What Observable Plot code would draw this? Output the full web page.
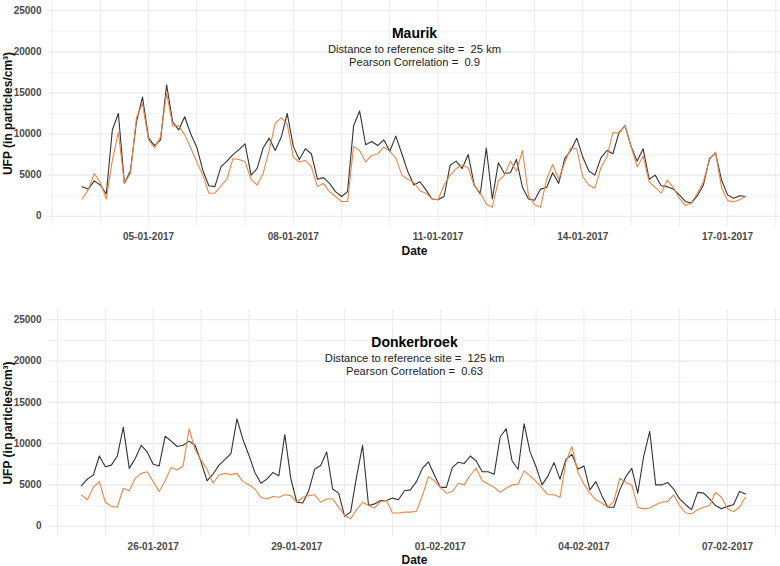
<!DOCTYPE html>
<html><head><meta charset="utf-8">
<script src="https://cdn.jsdelivr.net/npm/d3@7"></script>
<script src="https://cdn.jsdelivr.net/npm/@observablehq/plot@0.6"></script>
<style>
body{margin:0;background:#fff;font-family:"Liberation Sans",Arial,sans-serif}
svg{display:block}
</style>
</head><body><div id="chart"></div>
<script>
// 3-hourly UFP values (particles/cm³)
const stepHours = 3;
const maurikStart = "2017-01-03T15:00:00Z";
const donkerStart = "2017-01-24T12:00:00Z";

const maurikBlack = [3600,3300,4300,3800,2700,10500,12500,4000,5500,11500,
14500,9500,8600,9300,16000,11500,10500,12100,10000,8400,
5600,3700,3600,6000,6700,7500,8100,8800,5000,5800,
8300,9500,8000,9600,12500,8500,6900,
8200,7600,4500,4700,4000,3000,2400,3000,11000,12800,
8700,9100,8600,9300,7900,9750,7600,5400,3800,4200,
3200,2100,2000,2400,6200,6700,5800,7500,3800,2700,
8300,2100,6500,5200,5300,6900,3500,2100,
1950,3300,3500,5300,4000,7000,8000,9500,7200,5500,
5000,7100,8000,7600,10200,11000,8500,6700,8200,4500,
5000,3700,3600,3300,2600,1800,1600,2500,3800,7000,
7700,4400,2600,2200,2500,2400];

const maurikOrange = [2100,3200,5200,4100,2100,6800,10200,4000,5200,12000,
13700,9300,8300,9700,15000,11000,11000,9900,8300,6600,
5000,2800,2800,3700,4500,7000,6900,6650,4500,3800,
5200,8000,11300,12000,11200,7200,6600,
6800,6000,3600,4000,3000,2400,1800,1800,8500,8000,
6600,7400,7600,8400,7900,7100,5000,4500,4100,3100,
2800,2100,2000,3800,5000,5800,6200,5900,3700,2900,
1500,1100,4300,5000,6700,5500,8000,2500,
1400,1100,4500,6300,4500,6500,8300,8200,4800,3800,
3400,5900,7200,10200,10100,11100,8500,6000,7300,4200,
3500,2800,4400,3500,2200,1300,1600,2800,4200,6900,
7800,3500,1900,1750,2000,2400];

const donkerBlack = [4900,5700,6200,8500,7200,7400,8500,12000,7000,8200,
9800,9000,7500,7300,10900,10300,9650,9800,10300,9800,
7800,5500,6300,7400,8100,8800,13000,10500,8600,6500,
5200,5700,6500,6100,11100,5800,2900,2800,
4300,6900,7350,9000,4500,4000,1200,1700,6000,9800,
2500,2700,3100,3100,3400,3200,4300,4400,5400,7000,
7800,6200,4700,4700,7100,7750,7600,8500,7900,6600,
6600,6300,10800,11800,7900,6900,12400,9000,
7200,5000,6100,7700,5700,8100,8700,6900,7300,4400,
5400,3700,2300,2300,4400,6000,7000,4000,8500,11500,
5000,5000,5300,4500,3300,2600,2000,4100,4000,3300,
2500,2100,2400,2600,4200,3900];

const donkerOrange = [3800,3200,4700,5400,2900,2400,2300,4600,4300,5800,
6400,6600,5400,4200,5500,7100,6800,7300,11800,9300,
8000,6900,5200,6200,6400,6250,6400,5400,5000,4500,
3500,3300,3600,3500,3800,3700,2900,3500,
3700,3800,2900,3300,3300,2300,1300,900,2000,2900,
2500,2200,3000,3100,1600,1600,1700,1700,1800,3700,
6000,5500,4700,4000,4200,5200,5000,6200,7000,5500,
5100,4700,4100,4600,5000,5100,6700,6100,
5400,4650,3800,3800,3500,7800,9650,6500,5100,4000,
3200,2800,2300,3000,5800,5300,5000,2300,2100,2200,
2600,2900,3000,3800,2500,1600,1500,2000,2300,2500,
4100,3500,2100,1750,2300,3500];

const yTicks = [0,5000,10000,15000,20000,25000];
const yMinorTicks = [2500,7500,12500,17500,22500];
const maurikTickLabels = ["2017-01-05","2017-01-08","2017-01-11","2017-01-14","2017-01-17"];
const donkerTickLabels = ["2017-01-26","2017-01-29","2017-02-01","2017-02-04","2017-02-07"];
const yLabel = "UFP (in particles/cm³)";

function series(start, values) {
  const t0 = new Date(start).getTime();
  return values.map((v, i) => ({t: new Date(t0 + i * stepHours * 3600e3), v}));
}

function panel(cfg) {
  const days = d3.utcDay.range(cfg.domain[0], cfg.domain[1]);
  const ticks = cfg.ticks.map(d => new Date(d + "T00:00:00Z"));
  return Plot.plot({
    width: 780,
    height: 283,
    marginLeft: 48,
    marginRight: 0,
    marginTop: cfg.marginTop,
    marginBottom: cfg.marginBottom,
    style: {fontFamily: '"Liberation Sans", Arial, sans-serif', background: "#fff"},
    x: {type: "utc", domain: cfg.domain},
    y: {domain: [-1250, 26250]},
    marks: [
      Plot.ruleY(yMinorTicks, {stroke: "#f0f0f0", strokeWidth: 0.8}),
      Plot.ruleY(yTicks, {stroke: "#e8e8e8", strokeWidth: 1.1}),
      Plot.ruleX(days, {stroke: "#ececec", strokeWidth: 1}),
      Plot.line(series(cfg.start, cfg.black), {x: "t", y: "v", stroke: "#333333", strokeWidth: 1.1}),
      Plot.line(series(cfg.start, cfg.orange), {x: "t", y: "v", stroke: "#ee8645", strokeWidth: 1.1}),
      Plot.axisX({ticks, tickFormat: d3.utcFormat("%d-%m-%Y"), tickSize: 0, tickPadding: 6,
        fontSize: 10, fontWeight: "bold", color: "#4a4a4a", label: null}),
      Plot.axisY({ticks: yTicks, tickFormat: d => String(d), tickSize: 0, tickPadding: 7,
        fontSize: 10, fontWeight: "bold", color: "#4a4a4a", label: null}),
      Plot.text([cfg.title], {text: d => d, frameAnchor: "top", dy: 33, lineAnchor: "middle",
        fontSize: 14, fontWeight: "bold", fill: "#000"}),
      Plot.text([cfg.sub1], {text: d => d, frameAnchor: "top", dy: 49, lineAnchor: "middle",
        fontSize: 11.2, fill: "#222"}),
      Plot.text([cfg.sub2], {text: d => d, frameAnchor: "top", dy: 61.5, lineAnchor: "middle",
        fontSize: 11.2, fill: "#222"}),
      Plot.text([yLabel], {text: d => d, frameAnchor: "left", dx: -40, rotate: -90,
        textAnchor: "middle", lineAnchor: "middle", fontSize: 12, fontWeight: "bold", fill: "#111"}),
      Plot.text(["Date"], {text: d => d, frameAnchor: "bottom", dy: cfg.dateDy, lineAnchor: "middle",
        fontSize: 12, fontWeight: "bold", fill: "#111"})
    ]
  });
}

const root = document.getElementById("chart");
root.append(panel({
  start: maurikStart, black: maurikBlack, orange: maurikOrange,
  domain: [new Date("2017-01-02T22:15:00Z"), new Date("2017-01-18T02:20:00Z")],
  ticks: maurikTickLabels,
  title: "Maurik",
  sub1: "Distance to reference site =  25 km",
  sub2: "Pearson Correlation =  0.9",
  marginTop: 0, marginBottom: 57, dateDy: 25
}));
root.append(panel({
  start: donkerStart, black: donkerBlack, orange: donkerOrange,
  domain: [new Date("2017-01-23T19:30:00Z"), new Date("2017-02-08T02:35:00Z")],
  ticks: donkerTickLabels,
  title: "Donkerbroek",
  sub1: "Distance to reference site =  125 km",
  sub2: "Pearson Correlation =  0.63",
  marginTop: 26, marginBottom: 30, dateDy: 24
}));
</script>
</body></html>
